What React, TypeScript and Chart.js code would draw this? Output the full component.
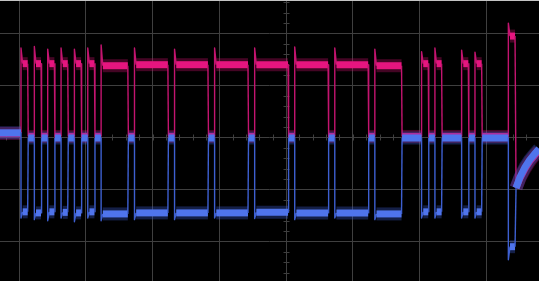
import React, { useEffect, useRef } from "react";
import { Chart, registerables } from "chart.js";

Chart.register(...registerables);

// ---- data (x in bit periods, y in vertical divisions) ----
const bitStart = [0, 2, 4, 6, 8, 10, 12, 17, 23, 29, 35, 41, 47, 53, 60, 62, 66, 68, 73];
const bitEnd = [1, 3, 5, 7, 9, 11, 16, 22, 28, 34, 40, 46, 52, 57, 61, 63, 67, 69, 74];

const pinkHigh = [1.42, 1.42, 1.42, 1.42, 1.42, 1.42, 1.38, 1.4, 1.4, 1.4, 1.4, 1.4, 1.4, 1.38, 1.42, 1.42, 1.42, 1.42, 1.95];
const pinkPeak = [1.72, 1.75, 1.7, 1.72, 1.7, 1.72, 1.78, 1.72, 1.7, 1.72, 1.72, 1.74, 1.72, 1.7, 1.65, 1.72, 1.68, 1.64, 2.2];
const blueLow = [-1.43, -1.45, -1.43, -1.44, -1.45, -1.43, -1.47, -1.45, -1.45, -1.45, -1.44, -1.45, -1.45, -1.47, -1.43, -1.43, -1.43, -1.43, -2.1];
const blueDip = [-1.55, -1.58, -1.6, -1.55, -1.62, -1.55, -1.6, -1.58, -1.58, -1.55, -1.56, -1.58, -1.55, -1.58, -1.55, -1.55, -1.55, -1.55, -2.35];

const leadBit = -3.5;
const pinkLead = 0.08;
const blueLead = 0.09;
const pinkRest = 0.02;
const blueRest = -0.01;

const tailBits = [74.15, 74.75, 75.5, 76.2, 76.9, 77.6, 78.5];
const blueTail = [-0.97, -0.76, -0.57, -0.43, -0.32, -0.22, -0.12];
const pinkTail = [-0.97, -0.78, -0.6, -0.46, -0.35, -0.25, -0.15];

// axis frame
const xMinBit = -3.146;
const xMaxBit = 77.59;
const firstGridBit = -0.3;
const bitsPerDiv = 10;
const centerGridBit = 39.7;
const yMinDiv = -2.76;
const yMaxDiv = 2.644;
const yGrid = [-2, -1, 0, 1, 2];

type P = { x: number; y: number; thin: boolean };

function buildTrace(lead: number, rest: number, level: number[], peak: number[], tail: number[]): P[] {
  const pts: P[] = [{ x: leadBit, y: lead, thin: false }];
  const last = bitStart.length - 1;
  for (let i = 0; i <= last; i++) {
    const s = bitStart[i];
    const e = bitEnd[i];
    pts.push({ x: s, y: i === 0 ? lead : rest, thin: false });
    pts.push({ x: s, y: peak[i], thin: true });
    pts.push({ x: s + 0.25, y: level[i], thin: true });
    pts.push({ x: e, y: level[i], thin: false });
    if (i < last) pts.push({ x: e + 0.08, y: rest, thin: true });
  }
  tailBits.forEach((b, k) => pts.push({ x: b, y: tail[k], thin: k === 0 }));
  return pts;
}

const gridColor = "#3f3f3f";

const crossTicks = {
  id: "crossTicks",
  beforeDatasetsDraw(chart: any) {
    const { ctx, scales } = chart;
    const x = scales.x;
    const y = scales.y;
    const cx = Math.round(x.getPixelForValue(centerGridBit)) + 0.5;
    const cy = Math.round(y.getPixelForValue(0)) + 0.5;
    ctx.save();
    ctx.strokeStyle = gridColor;
    ctx.lineWidth = 1;
    ctx.beginPath();
    for (let k = -14; k <= 14; k++) {
      const py = Math.round(y.getPixelForValue(k * 0.2)) + 0.5;
      ctx.moveTo(cx - 3, py);
      ctx.lineTo(cx + 3, py);
    }
    for (let k = -25; k <= 25; k++) {
      const px = Math.round(x.getPixelForValue(centerGridBit + k * 2)) + 0.5;
      ctx.moveTo(px, cy - 3);
      ctx.lineTo(px, cy + 3);
    }
    ctx.stroke();
    ctx.restore();
  },
};

export default function App() {
  const ref = useRef<HTMLCanvasElement | null>(null);

  useEffect(() => {
    if (!ref.current) return;
    const pink = buildTrace(pinkLead, pinkRest, pinkHigh, pinkPeak, pinkTail);
    const blue = buildTrace(blueLead, blueRest, blueLow, blueDip, blueTail);

    const mk = (pts: P[], thick: number, thickColor: string, thin: number, thinColor: string, order: number) => ({
      data: pts,
      order,
      pointRadius: 0,
      tension: 0,
      fill: false,
      borderWidth: thick,
      borderColor: thickColor,
      borderCapStyle: "butt",
      borderJoinStyle: "round",
      segment: {
        borderWidth: (c: any) => (pts[c.p1DataIndex].thin ? thin : thick),
        borderColor: (c: any) => (pts[c.p1DataIndex].thin ? thinColor : thickColor),
      },
    });

    const gridBits: number[] = [];
    for (let b = firstGridBit; b <= xMaxBit; b += bitsPerDiv) gridBits.push(b);

    const chart = new Chart(ref.current, {
      type: "line",
      data: {
        datasets: [
          mk(blue, 7, "#4f74ec", 1.4, "#3d5fd0", 0),
          mk(blue, 13, "rgba(60,95,215,0.33)", 1, "rgba(0,0,0,0)", 1),
          mk(pink, 7, "#e6157f", 1.4, "#c3146f", 2),
          mk(pink, 13, "rgba(205,15,110,0.33)", 1, "rgba(0,0,0,0)", 3),
        ] as any,
      },
      options: {
        animation: false,
        responsive: true,
        maintainAspectRatio: false,
        layout: { padding: 0 },
        plugins: { legend: { display: false }, tooltip: { enabled: false } },
        events: [],
        scales: {
          x: {
            type: "linear",
            min: xMinBit,
            max: xMaxBit,
            afterBuildTicks: (s: any) => {
              s.ticks = gridBits.map((v) => ({ value: v }));
            },
            ticks: { display: false },
            grid: { color: gridColor, lineWidth: 1, drawTicks: false },
            border: { display: false },
          },
          y: {
            type: "linear",
            min: yMinDiv,
            max: yMaxDiv,
            afterBuildTicks: (s: any) => {
              s.ticks = yGrid.map((v) => ({ value: v }));
            },
            ticks: { display: false },
            grid: { color: gridColor, lineWidth: 1, drawTicks: false },
            border: { display: false },
          },
        },
      } as any,
      plugins: [crossTicks],
    });
    return () => chart.destroy();
  }, []);

  return (
    <div style={{ position: "fixed", left: 0, top: 0, width: 539, height: 281, background: "#000" }}>
      <canvas ref={ref} />
      <div style={{ position: "absolute", left: 0, top: 0, width: 539, height: 1, background: "#c4c4c4" }} />
    </div>
  );
}
